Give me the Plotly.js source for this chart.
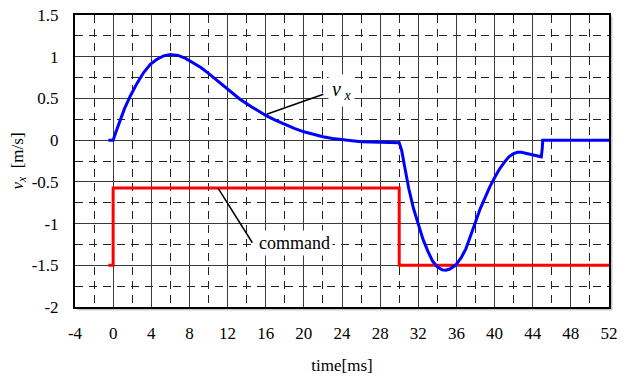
<!DOCTYPE html>
<html>
<head>
<meta charset="utf-8">
<script src="https://cdn.plot.ly/plotly-3.0.1.min.js"></script>
<style>
  html, body { margin: 0; padding: 0; background: #fff; }
  #chart { width: 629px; height: 376px; }
</style>
</head>
<body>
<div id="chart"></div>
<script>
// Measured lateral velocity v_x [m/s] over time [ms]
const timeVx = [-0.5, 0, 0.3, 0.7, 1.2, 1.8, 2.5, 3.2, 3.9, 4.6, 5.3, 6, 6.8, 7.6, 8.4, 9.2, 10, 11.2, 12.3, 13.3, 14.5, 15.3, 16.1, 17, 18, 19, 20, 21, 22, 23, 24, 25, 26, 27, 28, 29, 30,
  30.25, 30.5, 30.75, 31, 31.5, 32, 32.5, 33, 33.5, 34, 34.5, 34.9, 35.3, 35.9, 36.5, 37, 37.5, 38, 38.5, 39, 39.5, 40, 40.5, 41, 41.5, 42, 42.4, 42.8, 43.3, 43.8, 44.4, 44.9, 45.0, 45.05, 52];
const vx = [0, 0, 0.1, 0.23, 0.38, 0.53, 0.68, 0.81, 0.91, 0.97, 1.01, 1.025, 1.015, 0.98, 0.93, 0.87, 0.8, 0.69, 0.59, 0.49, 0.4, 0.34, 0.29, 0.24, 0.19, 0.14, 0.1, 0.07, 0.04, 0.02, 0.005, -0.01, -0.018, -0.022, -0.025, -0.028, -0.03,
  -0.12, -0.28, -0.44, -0.58, -0.82, -1.02, -1.19, -1.33, -1.45, -1.52, -1.555, -1.56, -1.545, -1.5, -1.41, -1.3, -1.15, -0.98, -0.82, -0.68, -0.56, -0.45, -0.35, -0.27, -0.2, -0.16, -0.145, -0.145, -0.16, -0.175, -0.19, -0.2, -0.1, 0, 0];

// Command signal (step profile)
const timeCmd = [-0.5, 0, 0, 30, 30, 52];
const cmd = [-1.5, -1.5, -0.575, -0.575, -1.5, -1.5];

// Leader lines for the two labels
const vxLeaderT = [16.1, 22.05];
const vxLeaderV = [0.31, 0.55];
const cmdLeaderT = [11.0, 14.6];
const cmdLeaderV = [-0.575, -1.23];

const xTicks = [-4, 0, 4, 8, 12, 16, 20, 24, 28, 32, 36, 40, 44, 48, 52];
const yTicks = [1.5, 1, 0.5, 0, -0.5, -1, -1.5, -2];

const serif = "Liberation Serif";

const traces = [
  { x: timeCmd, y: cmd, mode: "lines", line: { color: "#ff0000", width: 3 }, hoverinfo: "skip" },
  { x: timeVx, y: vx, mode: "lines", line: { color: "#0000ff", width: 3 }, hoverinfo: "skip" },
  { x: vxLeaderT, y: vxLeaderV, mode: "lines", line: { color: "#000", width: 1.5 }, hoverinfo: "skip" },
  { x: cmdLeaderT, y: cmdLeaderV, mode: "lines", line: { color: "#000", width: 1.5 }, hoverinfo: "skip" }
];

const gridSolid = "#3a3a3a";
const gridDash = "#222";
const frameShadow = "rgba(0,0,0,0.22)";

const layout = {
  width: 629, height: 376,
  margin: { l: 75, r: 20, t: 15, b: 69 },
  paper_bgcolor: "#fff", plot_bgcolor: "#fff",
  showlegend: false,
  font: { family: serif, size: 16, color: "#000" },
  xaxis: {
    range: [-4, 52], tickvals: xTicks, ticktext: xTicks.map(String),
    showgrid: true, gridcolor: gridSolid, gridwidth: 1,
    zeroline: false,
    showline: true, mirror: true, linecolor: "#000", linewidth: 2,
    ticks: "outside", ticklen: 10, tickcolor: "rgba(0,0,0,0)",
    tickfont: { family: serif, size: 17, color: "#000" },
    minor: { tick0: -2, dtick: 4, showgrid: true, gridcolor: gridDash, gridwidth: 1, griddash: "8px,6px", ticks: "" },
    title: { text: "time[ms]", font: { family: serif, size: 17 }, standoff: 17 },
    fixedrange: true
  },
  yaxis: {
    range: [-2, 1.5], tickvals: yTicks, ticktext: yTicks.map(String),
    showgrid: true, gridcolor: gridSolid, gridwidth: 1,
    zeroline: false,
    showline: true, mirror: true, linecolor: "#000", linewidth: 2,
    ticks: "outside", ticklen: 11, tickcolor: "rgba(0,0,0,0)",
    tickfont: { family: serif, size: 17, color: "#000" },
    minor: { tick0: 1.25, dtick: 0.5, showgrid: true, gridcolor: gridDash, gridwidth: 1, griddash: "8px,6px", ticks: "" },
    title: { text: "<i>v</i><sub><i>x</i></sub>  [m/s]", font: { family: serif, size: 17 }, standoff: 4 },
    fixedrange: true
  },
  // light drop shadow along the right and bottom edges of the frame
  shapes: [
    { type: "line", xref: "paper", yref: "paper", xsizemode: "pixel", xanchor: 1, x0: 2.5, x1: 2.5, y0: -0.008, y1: 0.995,
      line: { color: frameShadow, width: 2 } },
    { type: "line", xref: "paper", yref: "paper", ysizemode: "pixel", yanchor: 0, y0: -2.5, y1: -2.5, x0: 0.005, x1: 1.005,
      line: { color: frameShadow, width: 2 } }
  ],
  // labels sit on white boxes that hide the grid behind them
  annotations: [
    { x: 22.5, y: 0.6, xref: "x", yref: "y", xanchor: "left", yanchor: "middle", showarrow: false,
      bgcolor: "#fff", borderpad: 3,
      text: "<i>v</i><sub> <i>x</i></sub>", font: { family: serif, size: 20, color: "#000" } },
    { x: 15.0, y: -1.236, xref: "x", yref: "y", xanchor: "left", yanchor: "middle", showarrow: false,
      bgcolor: "#fff", borderpad: 2,
      text: "command", font: { family: serif, size: 18, color: "#000" } }
  ]
};

Plotly.newPlot("chart", traces, layout, { displayModeBar: false, staticPlot: true });
</script>
</body>
</html>
